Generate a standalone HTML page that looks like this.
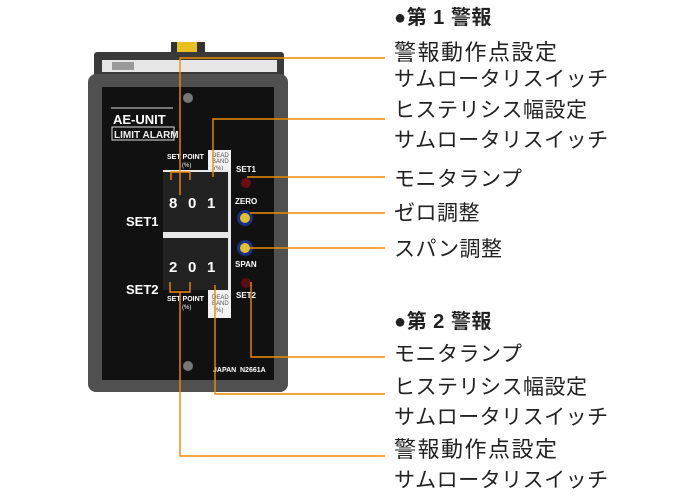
<!DOCTYPE html>
<html><head><meta charset="utf-8"><style>
body{margin:0;width:700px;height:500px;background:#fff;position:relative;overflow:hidden;font-family:"Liberation Sans","Noto Sans CJK JP",sans-serif}
.t{position:absolute;left:394px;font-size:21px;line-height:26px;color:#222;white-space:nowrap;letter-spacing:0.5px}
.k{font-size:22px;letter-spacing:1.5px}
.h{font-weight:bold;font-size:20px}
svg{position:absolute;left:0;top:0}
</style></head><body>
<svg width="700" height="500" xmlns="http://www.w3.org/2000/svg">
 <rect x="171" y="42" width="34" height="14" fill="#333"/>
 <rect x="177" y="42" width="20" height="12" fill="#e8c020"/>
 <rect x="94" y="52" width="190" height="40" rx="3" fill="#3a3a3a"/>
 <rect x="102" y="60" width="175" height="12" fill="#e6e6e6"/>
 <rect x="112" y="62" width="22" height="8" fill="#999"/>
 <rect x="88" y="74" width="200" height="318" rx="8" fill="#505050"/>
 <rect x="102" y="87" width="172" height="293" fill="#111"/>
 <circle cx="188" cy="98" r="5" fill="#777"/>
 <circle cx="188" cy="366" r="5" fill="#777"/>
 <line x1="111" y1="108" x2="173" y2="108" stroke="#ddd" stroke-width="1"/>
 <text x="113" y="124" fill="#fff" font-size="13" font-weight="bold" font-family="Liberation Sans">AE-UNIT</text>
 <rect x="112" y="127" width="62" height="13" fill="none" stroke="#ddd" stroke-width="1"/>
 <text x="114" y="138" fill="#eee" font-size="10" font-weight="bold" font-family="Liberation Sans">LIMIT ALARM</text>
 <rect x="163" y="150" width="68" height="30" fill="#f2f2f2"/>
 <rect x="163" y="150" width="45" height="30" fill="#111"/>
 <text x="167" y="159" fill="#fff" font-size="7" font-family="Liberation Sans" font-weight="bold">SET POINT</text>
 <text x="182" y="167" fill="#fff" font-size="6" font-family="Liberation Sans">(%)</text>
 <text x="212" y="157" fill="#555" font-size="6" font-family="Liberation Sans">DEAD</text>
 <text x="212" y="163" fill="#555" font-size="6" font-family="Liberation Sans">BAND</text>
 <text x="214" y="170" fill="#555" font-size="6" font-family="Liberation Sans">(%)</text>
 <rect x="163" y="170" width="68" height="130" fill="#e8e8e8"/>
 <rect x="163" y="172" width="65" height="60" fill="#222"/>
 <rect x="163" y="238" width="65" height="52" fill="#222"/>
 <rect x="163" y="290" width="68" height="28" fill="#f2f2f2"/>
 <rect x="163" y="290" width="45" height="28" fill="#111"/>
 <text x="167" y="301" fill="#fff" font-size="7" font-family="Liberation Sans" font-weight="bold">SET POINT</text>
 <text x="182" y="309" fill="#fff" font-size="6" font-family="Liberation Sans">(%)</text>
 <text x="212" y="299" fill="#555" font-size="6" font-family="Liberation Sans">DEAD</text>
 <text x="212" y="305" fill="#555" font-size="6" font-family="Liberation Sans">BAND</text>
 <text x="214" y="312" fill="#555" font-size="6" font-family="Liberation Sans">(%)</text>
 <g fill="#fff" font-size="15" font-weight="bold" font-family="Liberation Sans">
  <text x="169" y="208">8</text><text x="188" y="208">0</text><text x="207" y="208">1</text>
  <text x="169" y="272">2</text><text x="188" y="272">0</text><text x="207" y="272">1</text>
 </g>
 <g fill="#fff" font-size="13" font-weight="bold" font-family="Liberation Sans">
  <text x="126" y="226">SET1</text><text x="126" y="294">SET2</text>
 </g>
 <g fill="#fff" font-size="8" font-weight="bold" font-family="Liberation Sans">
  <text x="236" y="172">SET1</text><text x="235" y="204">ZERO</text>
  <text x="235" y="267">SPAN</text><text x="236" y="298">SET2</text>
  <text x="213" y="372" font-size="7">JAPAN</text><text x="240" y="372" font-size="7">N2661A</text>
 </g>
 <circle cx="246" cy="183" r="5" fill="#6a0d12"/>
 <circle cx="246" cy="283" r="5" fill="#5a0d12"/>
 <circle cx="245" cy="218" r="8" fill="#1a2e8a"/><circle cx="245" cy="218" r="5" fill="#e0c030"/>
 <circle cx="245" cy="248" r="8" fill="#1a2e8a"/><circle cx="245" cy="248" r="5" fill="#e0c030"/>
 <g stroke="#f08a00" stroke-width="1.4" fill="none">
  <polyline points="385,58 180,58 180,195"/>
  <polyline points="171,180 171,172 190,172 190,180"/>
  <polyline points="385,119 213,119 213,177"/>
  <line x1="247" y1="177" x2="385" y2="177"/>
  <line x1="250" y1="213" x2="385" y2="213"/>
  <line x1="250" y1="248" x2="385" y2="248"/>
  <polyline points="251,282 251,357 385,357"/>
  <polyline points="215,285 215,394 385,394"/>
  <polyline points="170,282 170,292 190,292 190,282"/>
  <polyline points="180,292 180,456 385,456"/>
 </g>
</svg>
<div class="t h" style="top:5px">●第 1 警報</div>
<div class="t k" style="top:40px">警報動作点設定</div>
<div class="t" style="top:67px">サムロータリスイッチ</div>
<div class="t" style="top:98px">ヒステリシス幅設定</div>
<div class="t" style="top:128px">サムロータリスイッチ</div>
<div class="t" style="top:167px">モニタランプ</div>
<div class="t" style="top:201px">ゼロ調整</div>
<div class="t" style="top:237px">スパン調整</div>
<div class="t h" style="top:309px">●第 2 警報</div>
<div class="t" style="top:342px">モニタランプ</div>
<div class="t" style="top:375px">ヒステリシス幅設定</div>
<div class="t" style="top:405px">サムロータリスイッチ</div>
<div class="t k" style="top:437px">警報動作点設定</div>
<div class="t" style="top:468px">サムロータリスイッチ</div>
</body></html>
